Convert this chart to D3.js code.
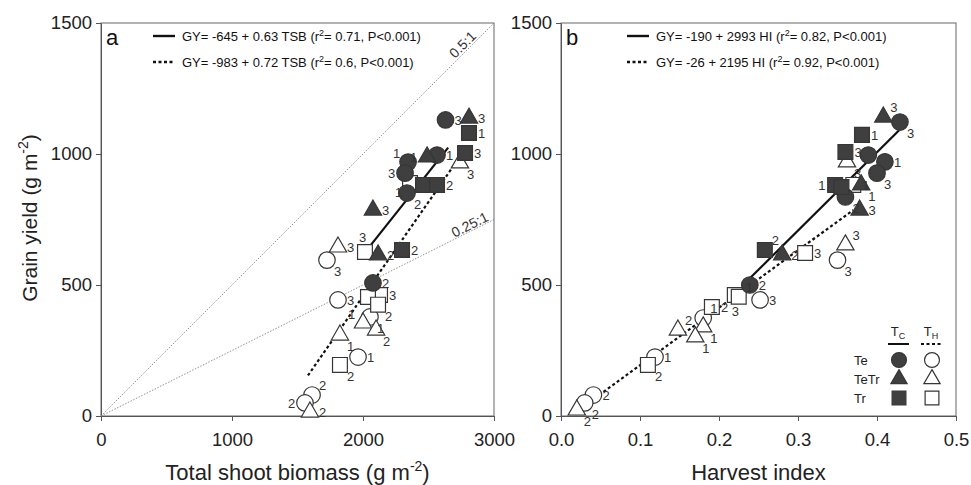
<!DOCTYPE html>
<html>
<head>
<meta charset="utf-8">
<script src="https://cdn.jsdelivr.net/npm/d3@7/dist/d3.min.js"></script>
<style>
  body { margin: 0; background: #fff; }
  svg { font-family: "Liberation Sans", Arial, sans-serif; }
</style>
</head>
<body>
<div id="chart"></div>
<script>
// panel a points: [TSB, GY, replicate]
const aTeC   = [[2630,1130,3],[2565,996,1],[2344,969,1],[2321,927,3],[2336,851,2],[2076,508,2]];
const aTeTrC = [[2809,1137,3],[2489,989,1],[2076,786,3],[2115,615,2]];
const aTrC   = [[2809,1080,1],[2779,1004,3],[2458,882,null],[2565,882,2],[2298,634,2]];
const aTeH   = [[1725,595,3],[1809,443,3],[2053,378,1],[1962,225,1],[1611,80,2],[1557,50,2]];
const aTeTrH = [[2740,966,3],[1809,645,3],[2000,355,1],[2100,328,2],[1824,309,1],[1595,15,2]];
const aTrH   = [[2359,889,1],[2015,626,3],[2130,462,3],[2038,454,null],[2115,425,2],[1824,195,2]];

// panel b points: [HI, GY, replicate]
const bTeC   = [[0.429,1122,3],[0.389,996,null],[0.41,970,1],[0.40,927,3],[0.36,836,2],[0.239,500,2]];
const bTeTrC = [[0.408,1141,3],[0.38,882,1],[0.378,786,3],[0.28,615,2]];
const bTrC   = [[0.381,1073,1],[0.36,1008,3],[0.347,882,1],[0.355,874,null],[0.258,634,2]];
const bTeH   = [[0.35,595,3],[0.252,443,3],[0.18,374,1],[0.119,225,1],[0.041,80,2],[0.03,50,2]];
const bTeTrH = [[0.362,970,3],[0.36,653,3],[0.18,340,1],[0.148,328,2],[0.17,302,1],[0.02,23,2]];
const bTrH   = [[0.37,882,1],[0.309,622,3],[0.22,462,3],[0.225,455,1],[0.191,416,2],[0.11,195,2]];

// regressions: [intercept, slope, xFrom, xTo]
const aFitC = [-645, 0.63, 2000, 2650];
const aFitH = [-983, 0.72, 1580, 2770];
const bFitC = [-190, 2993, 0.24, 0.428];
const bFitH = [-26, 2195, 0.02, 0.37];

const aEq = ["GY= -645 + 0.63 TSB (r", "= 0.71, P<0.001)", "GY= -983 + 0.72 TSB (r", "= 0.6, P<0.001)"];
const bEq = ["GY= -190 + 2993 HI (r", "= 0.82, P<0.001)", "GY= -26 + 2195 HI (r", "= 0.92, P<0.001)"];

const yTicks = [0, 500, 1000, 1500];
const aTicks = [0, 1000, 2000, 3000];
const bTicks = [0, 0.1, 0.2, 0.3, 0.4, 0.5];
const ratios = [0.5, 0.25];

// where the replicate number sits (default: right of the mark)
const labelOffsets = { r: [9, 5], rd: [7, 16], ru: [7, -5], l: [-17, 5], lu: [-15, -4], ld: [-15, 14], u: [-6, -10], d: [-3, 21] };
const aLabelSide = { teC2: "lu", teC3: "l", teC4: "rd", teTrC1: "l", trH0: "ld", trH1: "u", teTrH0: "rd",
    teH0: "rd", trH4: "rd", teH2: "rd", teTrH3: "rd", teTrH2: "lu", teTrH4: "rd", trH5: "rd", teH4: "ru", teH5: "l" };
const bLabelSide = { teTrC0: "ru", teC0: "rd", teTrH0: "rd", teC3: "rd", trC2: "l", teTrC1: "rd", teC4: "rd",
    trC4: "ru", teTrH1: "ru", teH0: "rd", trH2: "d", trH3: "ru", teH2: "ru", teTrH2: "rd", teTrH3: "ru",
    teTrH4: "rd", trH5: "rd", teH5: "rd", teTrH5: "rd" };

const darkFill = "#3f3f3f", openFill = "#fff", markStroke = "#363636";

const svg = d3.select("#chart").append("svg").attr("width", 971).attr("height", 485);

const y = d3.scaleLinear().domain([0, 1500]).range([416, 23]);

function panel(x, ticks, fmt, letter, eq, eqShift, fits, series, sides, xTitle, underlay) {
    const g = svg.append("g");
    const [x0, x1] = x.range();

    // box
    g.append("rect").attr("x", x0).attr("y", 23).attr("width", x1 - x0).attr("height", 393)
        .attr("fill", "none").attr("stroke", "#666").attr("stroke-width", 1);

    const xAxis = g.append("g").attr("transform", "translate(0,416)")
        .call(d3.axisBottom(x).tickValues(ticks).tickFormat(fmt).tickSize(5).tickSizeOuter(0));
    const yAxis = g.append("g").attr("transform", `translate(${x0},0)`)
        .call(d3.axisLeft(y).tickValues(yTicks).tickFormat(d3.format("d")).tickSize(5).tickSizeOuter(0));
    [xAxis, yAxis].forEach(a => {
        a.select(".domain").attr("stroke", "#555");
        a.selectAll(".tick line").attr("stroke", "#555");
        a.selectAll(".tick text").attr("font-size", 18.5).attr("fill", "#222").attr("font-family", "Liberation Sans, Arial");
    });
    xAxis.selectAll(".tick text").attr("dy", "1.2em");
    yAxis.selectAll(".tick text").attr("dx", "-1px");

    const xt = g.append("text").attr("x", (x0 + x1) / 2).attr("y", 480).attr("text-anchor", "middle")
        .attr("font-size", 22).attr("fill", "#222");
    xt.append("tspan").text(xTitle[0]);
    if (xTitle[1]) {
        xt.append("tspan").attr("dy", -9).attr("font-size", 14).text(xTitle[1]);
        xt.append("tspan").attr("dy", 9).text(")");
    }

    // panel letter
    g.append("text").attr("x", x0 + 5).attr("y", 45).attr("font-size", 22).attr("fill", "#111").text(letter);

    // equation legend
    [0, 1].forEach(i => {
        const yy = 36 + i * 26;
        g.append("line").attr("x1", x0 + eqShift).attr("x2", x0 + eqShift + 22).attr("y1", yy).attr("y2", yy)
            .attr("stroke", "#111").attr("stroke-width", 2.4)
            .attr("stroke-dasharray", i ? "3,2.5" : null);
        const t = g.append("text").attr("x", x0 + eqShift + 29).attr("y", yy + 4.5).attr("font-size", 13).attr("fill", "#111");
        t.append("tspan").text(eq[i * 2]);
        t.append("tspan").attr("dy", -5).attr("font-size", 9).text("2");
        t.append("tspan").attr("dy", 5).text(eq[i * 2 + 1]);
    });

    if (underlay) underlay(g.append("g"));

    // regression lines
    fits.forEach((f, i) => {
        const [b0, b1, xa, xb] = f;
        g.append("line")
            .attr("x1", x(xa)).attr("y1", y(b0 + b1 * xa))
            .attr("x2", x(xb)).attr("y2", y(b0 + b1 * xb))
            .attr("stroke", "#111").attr("stroke-width", 2.2)
            .attr("stroke-dasharray", i ? "3,2.5" : null);
    });

    // points
    series.forEach(s => {
        const sym = d3.symbol().type(s.type).size(s.size);
        g.selectAll(null).data(s.data).enter().append("path")
            .attr("transform", d => `translate(${x(d[0])},${y(d[1])})`)
            .attr("d", sym)
            .attr("fill", s.filled ? darkFill : openFill)
            .attr("stroke", markStroke).attr("stroke-width", 1.2);
    });
    series.forEach(s => {
        g.selectAll(null).data(s.data.map((d, i) => [d, i]).filter(p => p[0][2] != null)).enter().append("text")
            .each(function (p) {
                const off = labelOffsets[sides[s.key + p[1]] || "r"];
                d3.select(this).attr("x", x(p[0][0]) + off[0]).attr("y", y(p[0][1]) + off[1]);
            })
            .attr("font-size", 13).attr("fill", "#333").text(p => p[0][2]);
    });
    return g;
}

function seriesOf(teC, tetrC, trC, teH, tetrH, trH) {
    return [
        { key: "teH", data: teH, type: d3.symbolCircle, size: 215, filled: false },
        { key: "teTrH", data: tetrH, type: d3.symbolTriangle, size: 130, filled: false },
        { key: "trH", data: trH, type: d3.symbolSquare, size: 220, filled: false },
        { key: "teC", data: teC, type: d3.symbolCircle, size: 215, filled: true },
        { key: "teTrC", data: tetrC, type: d3.symbolTriangle, size: 130, filled: true },
        { key: "trC", data: trC, type: d3.symbolSquare, size: 220, filled: true }
    ];
}

// panel a
const xa = d3.scaleLinear().domain([0, 3000]).range([101, 494]);
const ga = panel(xa, aTicks, d3.format("d"), "a", aEq, 52, [aFitC, aFitH],
    seriesOf(aTeC, aTeTrC, aTrC, aTeH, aTeTrH, aTrH), aLabelSide, ["Total shoot biomass (g m", "-2"],
    u => {
        // ratio lines, under the points
        ratios.forEach(r => {
            u.append("line")
                .attr("x1", xa(0)).attr("y1", y(0)).attr("x2", xa(3000)).attr("y2", y(3000 * r))
                .attr("stroke", "#777").attr("stroke-width", 0.8).attr("stroke-dasharray", "1.5,1.5");
        });
        u.append("text").attr("transform", "translate(466,48) rotate(-45)")
            .attr("text-anchor", "middle").attr("font-size", 14).attr("fill", "#333").text("0.5:1");
        u.append("text").attr("transform", "translate(472,229) rotate(-26.6)")
            .attr("text-anchor", "middle").attr("font-size", 14).attr("fill", "#333").text("0.25:1");
    });

// panel b
const xb = d3.scaleLinear().domain([0, 0.5]).range([561, 956]);
const gb = panel(xb, bTicks, d => d === 0 ? "0.0" : d3.format(".1f")(d), "b", bEq, 66, [bFitC, bFitH],
    seriesOf(bTeC, bTeTrC, bTrC, bTeH, bTeTrH, bTrH), bLabelSide, ["Harvest index"]);

// symbol legend
const groups = ["Te", "TeTr", "Tr"];
const legTypes = [d3.symbolCircle, d3.symbolTriangle, d3.symbolSquare];
const legSizes = [175, 115, 190];
const lg = gb.append("g");
[["T", "C", 898], ["T", "H", 931]].forEach(([a, b, lx], i) => {
    const t = lg.append("text").attr("x", lx).attr("y", 336).attr("text-anchor", "middle")
        .attr("font-size", 13).attr("fill", "#222");
    t.append("tspan").text(a);
    t.append("tspan").attr("dy", 3).attr("font-size", 9).text(b);
    lg.append("line").attr("x1", lx - 10).attr("x2", lx + 11).attr("y1", 344).attr("y2", 344)
        .attr("stroke", "#111").attr("stroke-width", 2).attr("stroke-dasharray", i ? "3,2.5" : null);
});
groups.forEach((name, i) => {
    const yy = 360 + i * 19;
    lg.append("text").attr("x", 854).attr("y", yy + 5).attr("font-size", 13).attr("fill", "#222").text(name);
    [0, 1].forEach(j => {
        lg.append("path").attr("transform", `translate(${j ? 932 : 899},${yy})`)
            .attr("d", d3.symbol().type(legTypes[i]).size(legSizes[i]))
            .attr("fill", j ? openFill : darkFill).attr("stroke", markStroke).attr("stroke-width", 1.2);
    });
});

// shared y title
const yt = svg.append("text").attr("transform", "translate(37,218) rotate(-90)")
    .attr("text-anchor", "middle").attr("font-size", 21).attr("fill", "#222");
yt.append("tspan").text("Grain yield (g m");
yt.append("tspan").attr("dy", -9).attr("font-size", 14).text("-2");
yt.append("tspan").attr("dy", 9).text(")");
</script>
</body>
</html>
